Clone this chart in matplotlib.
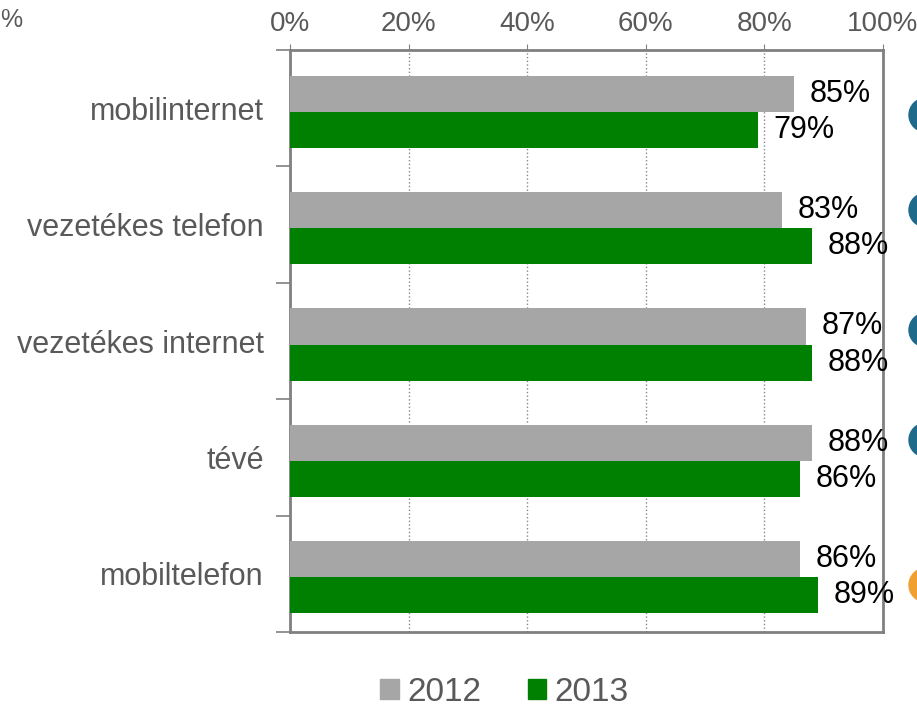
import numpy as np
import matplotlib.pyplot as plt
from matplotlib.patches import Ellipse, Patch
from matplotlib.transforms import IdentityTransform

plt.rcParams['font.family'] = ['Liberation Sans', 'DejaVu Sans']

categories = ['mobilinternet', 'vezetékes telefon', 'vezetékes internet', 'tévé', 'mobiltelefon']
vals_2012 = [85, 83, 87, 88, 86]
vals_2013 = [79, 88, 88, 86, 89]
series_names = ['2012', '2013']

gray = '#A6A6A6'
green = '#008000'
txt_gray = '#595959'

fig = plt.figure(figsize=(9.17, 7.08), dpi=100)
ax = fig.add_axes([0.3162, 0.1073, 0.6467, 0.8221])

y = np.arange(len(categories))
h = 0.31
ax.barh(y - h / 2 + 0.03, vals_2012, height=h, color=gray, zorder=3)
ax.barh(y + h / 2 + 0.03, vals_2013, height=h, color=green, zorder=3)

for yi, v in zip(y, vals_2012):
    ax.text(v + 2.6, yi - h / 2 + 0.03, f'{v}%', va='center', ha='left', fontsize=22, color='black')
for yi, v in zip(y, vals_2013):
    ax.text(v + 2.6, yi + h / 2 + 0.03, f'{v}%', va='center', ha='left', fontsize=22, color='black')

ax.set_xlim(0, 100)
ax.set_ylim(len(categories) - 0.5, -0.5)

ax.xaxis.tick_top()
ax.set_xticks(np.arange(0, 101, 20))
ax.set_xticklabels([f'{t}%' for t in range(0, 101, 20)])
ax.tick_params(axis='x', colors='#808080', labelcolor=txt_gray, labelsize=20, length=4, pad=5)

ax.set_yticks(y)
ax.set_yticklabels(categories)
ax.set_yticks(np.arange(-0.5, len(categories)), minor=True)
ax.tick_params(axis='y', which='major', length=0, pad=19, labelsize=22, labelcolor=txt_gray)
ax.tick_params(axis='y', which='minor', length=10, color='#808080', width=1.2)

ax.grid(axis='x', linestyle=':', color='#888888', linewidth=1, zorder=0)
for s in ax.spines.values():
    s.set_color('#808080')
    s.set_linewidth(2)

handles = [Patch(color=gray), Patch(color=green)]
fig.legend(handles, series_names, loc='center', bbox_to_anchor=(0.55, 0.022), ncol=2,
           frameon=False, fontsize=24, labelcolor=txt_gray, handlelength=0.55, handleheight=0.55,
           handletextpad=0.25, columnspacing=1.4)

fig.text(0.0, 0.988, '%', ha='left', va='top', fontsize=18, color=txt_gray)

# cut-off markers at the right edge
for py, c in [(115, '#1F6A8A'), (210, '#1F6A8A'), (330, '#1F6A8A'), (440, '#1F6A8A'), (585, '#F0A030')]:
    fig.add_artist(Ellipse((926, 708 - py), 34, 34, color=c, transform=IdentityTransform()))

fig.savefig('out.png', dpi=100)
